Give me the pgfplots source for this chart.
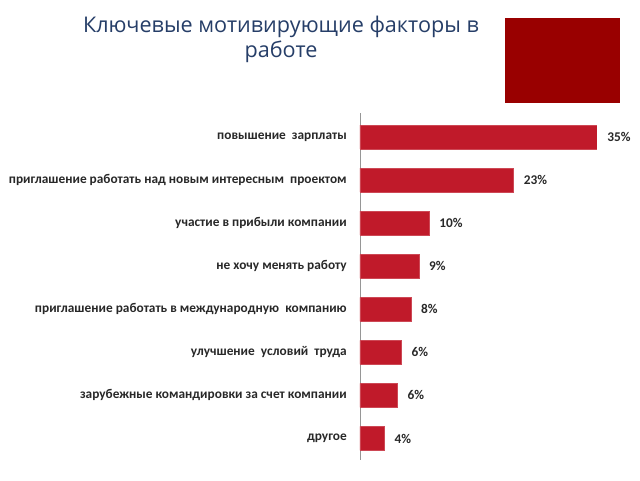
\documentclass[border=0pt]{standalone}
\usepackage{fontspec}
\setmainfont{Carlito}
\newfontfamily\titlefont{Open Sans}
\usepackage{pgfplots}
\usepackage{pgfplotstable}
\pgfplotsset{compat=1.18}
\definecolor{barred}{RGB}{192,26,42}
\definecolor{titleblue}{RGB}{38,62,104}
\definecolor{boxred}{RGB}{153,0,0}
\definecolor{labgray}{RGB}{40,40,40}
\definecolor{axgray}{RGB}{150,150,150}

\pgfplotstableread{
idx val lab
0 35.0 35
1 22.7 23
2 10.2 10
3 8.7 9
4 7.5 8
5 6.1 6
6 5.5 6
7 3.6 4
}\data

\begin{document}
\begin{tikzpicture}
\useasboundingbox (0,0) rectangle (480pt,360pt);
\fill[white] (0,0) rectangle (480pt,360pt);
\begin{scope}[x=0.75pt,y=-0.75pt,shift={(0,360pt)}]
\node[anchor=base, font=\titlefont\fontsize{16.2}{19}\selectfont, text=titleblue, inner sep=0pt] at (281,32) {Ключевые мотивирующие факторы в};
\node[anchor=base, font=\titlefont\fontsize{16.2}{19}\selectfont, text=titleblue, inner sep=0pt] at (281,57) {работе};
\fill[boxred] (505,18) rectangle (620,103);
\end{scope}
\begin{axis}[
  at={(270pt,15pt)}, anchor=south west,
  scale only axis,
  width=177.75pt, height=260.25pt,
  xbar, bar width=18pt,
  xmin=0, xmax=35,
  ymin=-0.56, ymax=7.5,
  y dir=reverse,
  hide x axis,
  axis y line*=left,
  y axis line style={draw=axgray, line width=0.6pt, -},
  ytick={0,1,2,3,4,5,6,7},
  yticklabels={повышение\ \ зарплаты, приглашение работать над новым интересным\ \ проектом, участие в прибыли компании, не хочу менять работу, приглашение работать в международную\ \ компанию, улучшение\ \ условий\ \ труда, зарубежные командировки за счет компании, другое},
  major tick length=0pt,
  yticklabel style={font=\bfseries\fontsize{10}{11}\selectfont, text=labgray, inner sep=0pt, anchor=east, xshift=-9.75pt},
  point meta=explicit,
  /pgf/number format/assume math mode=true,
  nodes near coords={\pgfmathprintnumber[fixed,precision=0,assume math mode=true]{\pgfplotspointmeta}\%},
  nodes near coords align=horizontal,
  every node near coord/.append style={font=\bfseries\fontsize{10}{11}\selectfont, text=labgray, inner sep=0pt, anchor=west, xshift=7.5pt},
]
\addplot[fill=barred, draw=barred!80!white, line width=0.4pt] table[x=val, y=idx, meta=lab] {\data};
\end{axis}
\end{tikzpicture}
\end{document}
